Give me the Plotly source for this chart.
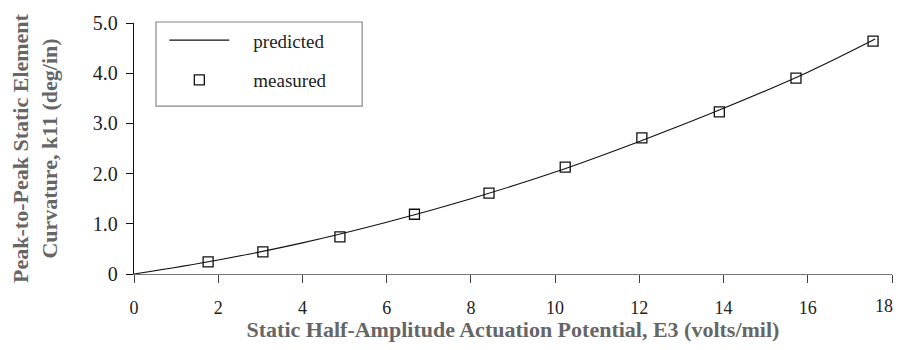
import plotly.graph_objects as go

# Data
pred_x = [0, 2, 4, 6, 8, 10, 12, 14, 16, 17.6]
pred_y = [0, 0.28, 0.62, 1.03, 1.50, 2.03, 2.64, 3.30, 4.02, 4.68]

meas_x = [1.76, 3.06, 4.89, 6.66, 8.43, 10.24, 12.06, 13.9, 15.72, 17.55]
meas_y = [0.24, 0.44, 0.74, 1.19, 1.61, 2.13, 2.71, 3.23, 3.90, 4.64]

x_ticks = [0, 2, 4, 6, 8, 10, 12, 14, 16, 18]
y_ticks = [0, 1, 2, 3, 4, 5]
y_ticktext = ["0", "1.0", "2.0", "3.0", "4.0", "5.0"]

FONT = "Liberation Serif"
NB = "\u00a0"

# the last x label sits at the very right edge; draw it as an annotation nudged inside
x_ticktext = [str(v) for v in x_ticks[:-1]] + [""]

fig = go.Figure()
fig.add_trace(go.Scatter(x=pred_x, y=pred_y, mode="lines", name=NB * 4 + "predicted",
                         line=dict(color="#111", width=1.1, shape="spline"),
                         legendgroup="a"))
fig.add_trace(go.Scatter(x=meas_x, y=meas_y, mode="markers", name=NB * 4 + "measured",
                         marker=dict(symbol="square-open", size=10, color="#111",
                                     line=dict(width=1.3, color="#111")),
                         legendgroup="b"))

fig.add_annotation(x=x_ticks[-1], xref="x", y=0, yref="paper", text=str(x_ticks[-1]),
                   showarrow=False, xanchor="center", yanchor="middle",
                   xshift=-8, yshift=-32,
                   font=dict(family=FONT, size=18, color="#222"))

# legend frame (paper coordinates)
fig.add_shape(type="rect", xref="paper", yref="paper", x0=0.029, x1=0.301, y0=0.669, y1=1.004,
              line=dict(color="#888", width=1.2), fillcolor="rgba(0,0,0,0)", layer="above")

# page body has an 8px margin: keep the figure small enough to avoid scrollbars
fig.update_layout(
    width=893, height=334,
    margin=dict(l=126, r=9, t=15, b=68, autoexpand=False),
    paper_bgcolor="white", plot_bgcolor="white",
    font=dict(family=FONT, size=19, color="#222"),
    showlegend=True,
    legend=dict(x=0.040, y=1.007, xanchor="left", yanchor="top",
                borderwidth=0, bgcolor="rgba(255,255,255,0)",
                font=dict(family=FONT, size=19, color="#222"),
                itemwidth=60, tracegroupgap=12),
    xaxis=dict(range=[0, 18], tickvals=x_ticks, ticktext=x_ticktext,
               automargin=False,
               showgrid=False, zeroline=False, showline=True, linecolor="#777",
               linewidth=1.2, ticks="outside", ticklen=8, tickcolor="#444",
               ticklabelstandoff=9, ticklabeloverflow="allow",
               tickfont=dict(family=FONT, size=18, color="#222"),
               title=dict(text="<b>Static Half-Amplitude Actuation Potential, E3 (volts/mil)</b>",
                          font=dict(family=FONT, size=22, color="#666"), standoff=12)),
    yaxis=dict(range=[0, 5], tickvals=y_ticks, ticktext=y_ticktext,
               automargin=False,
               showgrid=False, zeroline=False, showline=True, linecolor="#111",
               linewidth=1.3, ticks="outside", ticklen=7, tickcolor="#111",
               ticklabelstandoff=4,
               tickfont=dict(family=FONT, size=20, color="#222"),
               title=dict(text="<b>Peak-to-Peak Static Element<br>Curvature, k11 (deg/in)</b>",
                          font=dict(family=FONT, size=22, color="#666"), standoff=30)),
    xaxis2=dict(overlaying="x", anchor="y", matches="x", range=[0, 18], tickvals=x_ticks,
                automargin=False,
                showticklabels=False, ticks="inside", ticklen=5, tickcolor="#444",
                showgrid=False, zeroline=False, showline=False),
    yaxis2=dict(overlaying="y", anchor="x", matches="y", range=[0, 5], tickvals=y_ticks,
                automargin=False,
                showticklabels=False, ticks="inside", ticklen=7, tickcolor="#111",
                showgrid=False, zeroline=False, showline=False),
)

fig.write_html("out.html")
